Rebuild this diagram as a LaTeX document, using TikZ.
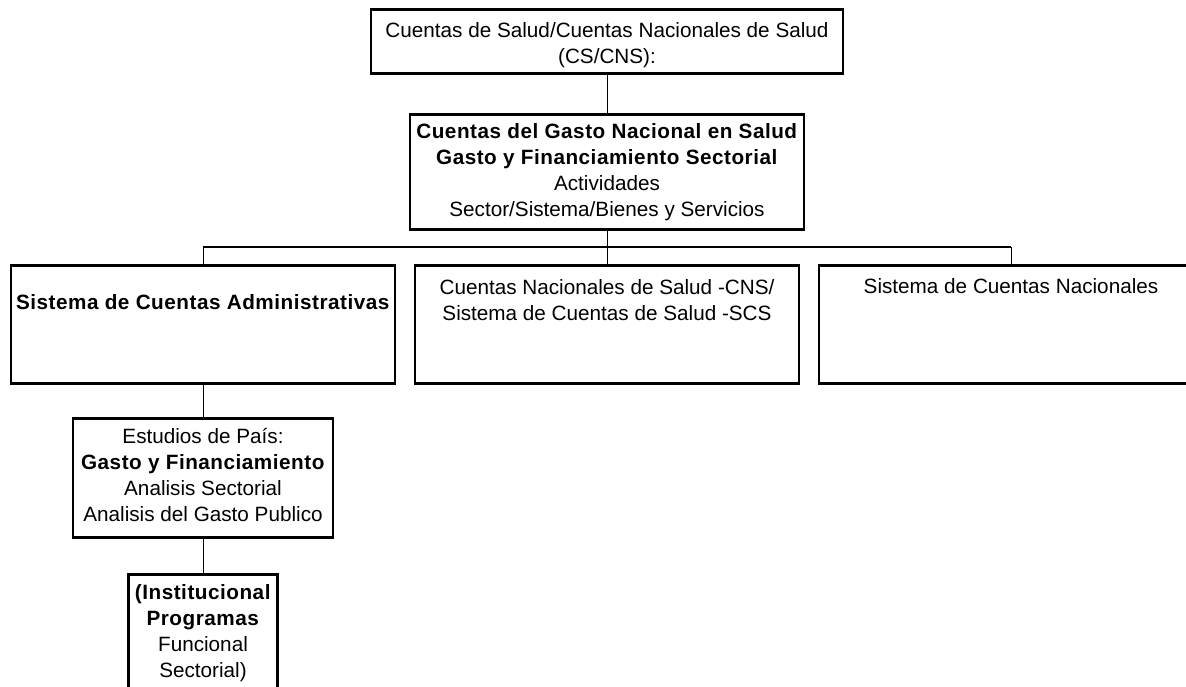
\documentclass[tikz,border=0pt]{standalone}
\usepackage{fontspec}
\setmainfont[BoldFeatures={LetterSpace=2.5}]{Liberation Sans}
% text of a box: width, height, space above the first line, lines
\newcommand{\textocaja}[4]{\parbox[c][#2][t]{#1}{\fontsize{20.7pt}{26pt}\selectfont\centering\vspace*{#3}\strut #4}}

\begin{document}
\begin{tikzpicture}[x=1pt, y=-1pt,
  caja/.style={draw=black, line width=2.5pt, inner sep=0pt, anchor=north},
  conector/.style={draw=black, line width=1pt},
  barra/.style={draw=black, line width=2.5pt}]
\useasboundingbox (0,0) rectangle (1186,686);
\clip (0,0) rectangle (1186,686);
\node[caja] (cs) at (607,8) {\textocaja{472pt}{64pt}{9.8pt}{Cuentas de Salud/Cuentas Nacionales de Salud\\(CS/CNS):}};
\node[caja] (cgns) at (607,113) {\textocaja{394pt}{115pt}{5.8pt}{\textbf{Cuentas del Gasto Nacional en Salud}\\\textbf{Gasto y Financiamiento Sectorial}\\Actividades\\Sector/Sistema/Bienes y Servicios}};
\node[caja] (sca) at (203,264) {\textocaja{384pt}{118pt}{25.8pt}{\textbf{Sistema de Cuentas Administrativas}}};
\node[caja] (cns) at (607,264) {\textocaja{384pt}{118pt}{10.8pt}{Cuentas Nacionales de Salud -CNS/\\Sistema de Cuentas de Salud -SCS}};
\node[caja] (scn) at (1011,264) {\textocaja{384pt}{118pt}{9.8pt}{Sistema de Cuentas Nacionales}};
\node[caja] (estudios) at (203,417) {\textocaja{260pt}{119pt}{6.8pt}{Estudios de País:\\\textbf{Gasto y Financiamiento}\\Analisis Sectorial\\Analisis del Gasto Publico}};
\node[caja] (programas) at (203,573) {\textocaja{149pt}{130pt}{6.8pt}{\textbf{(Institucional}\\\textbf{Programas}\\Funcional\\Sectorial)}};
\coordinate (bus) at (607,247);
% connectors
\draw[conector] (cs) -- (cgns);
\draw[conector] (cgns) -- (bus);
\draw[barra] (sca.north |- bus) -- (scn.north |- bus);
\foreach \n in {sca,cns,scn}
  \draw[conector] (\n.north |- bus) -- (\n);
\draw[conector] (sca) -- (estudios);
\draw[conector] (estudios) -- (programas);
\end{tikzpicture}
\end{document}
